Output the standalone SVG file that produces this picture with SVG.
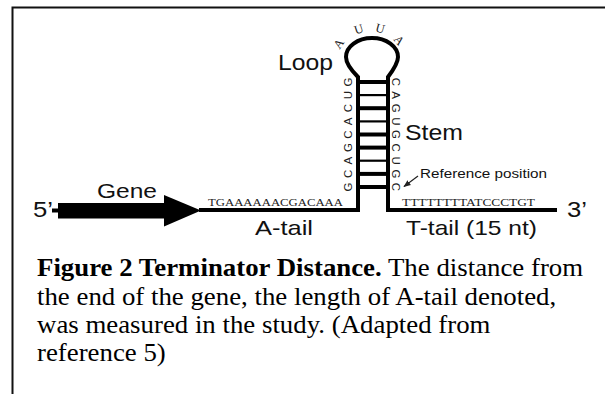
<svg xmlns="http://www.w3.org/2000/svg" width="605" height="394" viewBox="0 0 605 394">
<style>
.lbl{font-family:"Liberation Sans",Arial,sans-serif;fill:#111}
.seq{font-family:"Liberation Serif","Times New Roman",serif;fill:#222}
.nt{font-family:"Liberation Sans",Arial,sans-serif;font-size:11.5px;fill:#222}
.ntl{font-family:"Liberation Serif","Times New Roman",serif;font-size:12.5px;fill:#222}
.cap{font-family:"Liberation Serif","Times New Roman",serif;font-size:24.5px;fill:#000}
.strand{fill:none;stroke:#000;stroke-width:4;stroke-linejoin:miter}
.gc{stroke:#000;stroke-width:4}
.au{stroke:#000;stroke-width:2.2}
</style>
<defs>
<marker id="ah" viewBox="0 0 10 10" refX="9" refY="5" markerWidth="6" markerHeight="6" orient="auto">
<path d="M0,1 L10,5 L0,9 z" fill="#222"/>
</marker>
</defs>
<rect width="605" height="394" fill="#fff"/>
<g id="frame" fill="none" stroke="#111" stroke-width="2">
<path d="M605,7.5 H12.5 V394"/>
</g>
<g id="connectors">
<path class="strand" d="M199,210 H358 V77 C350,69 346,63 346,57 A26 19 0 1 1 398,57 C398,63 394,69 388,77 V210 H557"/>
<line x1="418" y1="176" x2="404" y2="186.5" stroke="#222" stroke-width="1.2" marker-end="url(#ah)"/>
</g>
<g id="gene">
<line x1="52" y1="210.5" x2="60" y2="210.5" stroke="#000" stroke-width="4"/>
<rect x="58" y="203" width="108" height="15.5" fill="#000"/>
<path d="M164,195 L201,210.5 L164,226.5 z" fill="#000"/>
<text class="lbl" x="97" y="198" font-size="21" textLength="60" lengthAdjust="spacingAndGlyphs">Gene</text>
<text class="lbl" x="33" y="217" font-size="22" textLength="20" lengthAdjust="spacingAndGlyphs">5’</text>
</g>
<g id="stem">
<line class="gc" x1="358" y1="82" x2="388" y2="82"/>
<line class="au" x1="358" y1="95.1" x2="388" y2="95.1"/>
<line class="gc" x1="358" y1="108.2" x2="388" y2="108.2"/>
<line class="au" x1="358" y1="121.4" x2="388" y2="121.4"/>
<line class="gc" x1="358" y1="134.5" x2="388" y2="134.5"/>
<line class="gc" x1="358" y1="147.6" x2="388" y2="147.6"/>
<line class="au" x1="358" y1="160.7" x2="388" y2="160.7"/>
<line class="gc" x1="358" y1="173.9" x2="388" y2="173.9"/>
<line class="gc" x1="358" y1="187" x2="388" y2="187"/>
<g class="nt" text-anchor="middle" dominant-baseline="central">
<text transform="translate(348,82) rotate(-90)">G</text>
<text transform="translate(348,95.1) rotate(-90)">U</text>
<text transform="translate(348,108.2) rotate(-90)">C</text>
<text transform="translate(348,121.4) rotate(-90)">A</text>
<text transform="translate(348,134.5) rotate(-90)">C</text>
<text transform="translate(348,147.6) rotate(-90)">G</text>
<text transform="translate(348,160.7) rotate(-90)">A</text>
<text transform="translate(348,173.9) rotate(-90)">C</text>
<text transform="translate(348,187) rotate(-90)">G</text>
<text transform="translate(396,82) rotate(90)">C</text>
<text transform="translate(396,95.1) rotate(90)">A</text>
<text transform="translate(396,108.2) rotate(90)">G</text>
<text transform="translate(396,121.4) rotate(90)">U</text>
<text transform="translate(396,134.5) rotate(90)">G</text>
<text transform="translate(396,147.6) rotate(90)">C</text>
<text transform="translate(396,160.7) rotate(90)">U</text>
<text transform="translate(396,173.9) rotate(90)">G</text>
<text transform="translate(396,187) rotate(90)">C</text>
</g>
</g>
<g id="loop">
<g class="ntl" text-anchor="middle">
<text transform="translate(342,46) rotate(-55)">A</text>
<text transform="translate(360,33) rotate(-18)">U</text>
<text transform="translate(379,32.5) rotate(15)">U</text>
<text transform="translate(396,43) rotate(50)">A</text>
</g>
<text class="lbl" x="278" y="70" font-size="22" textLength="55" lengthAdjust="spacingAndGlyphs">Loop</text>
<text class="lbl" x="405" y="140" font-size="22" textLength="58" lengthAdjust="spacingAndGlyphs">Stem</text>
<text class="lbl" x="420" y="178" font-size="12.5" textLength="127" lengthAdjust="spacingAndGlyphs">Reference position</text>
</g>
<g id="a-tail">
<text class="seq" x="208" y="205.5" font-size="10.5" textLength="135" lengthAdjust="spacingAndGlyphs">TGAAAAAACGACAAA</text>
<text class="lbl" x="255" y="235" font-size="21" textLength="58" lengthAdjust="spacingAndGlyphs">A-tail</text>
</g>
<g id="t-tail">
<text class="seq" x="402" y="205.5" font-size="10.5" textLength="133" lengthAdjust="spacingAndGlyphs">TTTTTTTTATCCCTGT</text>
<text class="lbl" x="406" y="235" font-size="21" textLength="131" lengthAdjust="spacingAndGlyphs">T-tail (15 nt)</text>
<text class="lbl" x="567" y="217" font-size="22" textLength="20" lengthAdjust="spacingAndGlyphs">3’</text>
</g>
<g id="caption" transform="scale(1.095 1)">
<text class="cap" x="33.8" y="276"><tspan font-weight="bold">Figure 2 Terminator Distance.</tspan> The distance from</text>
<text class="cap" x="33.8" y="305">the end of the gene, the length of A-tail denoted,</text>
<text class="cap" x="33.8" y="333">was measured in the study. (Adapted from</text>
<text class="cap" x="33.8" y="361">reference 5)</text>
</g>
</svg>
